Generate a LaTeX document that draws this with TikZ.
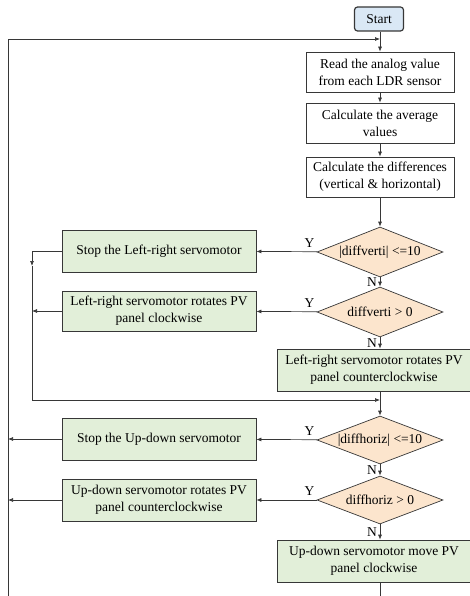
\documentclass[tikz,border=0pt]{standalone}
\usepackage{fontspec}
\setmainfont{Liberation Serif}
\usetikzlibrary{shapes.geometric,arrows.meta,calc}
\definecolor{boxgreen}{RGB}{226,239,217}
\definecolor{decpeach}{RGB}{252,229,205}
\definecolor{startblue}{RGB}{218,232,245}
\definecolor{linegray}{RGB}{55,55,55}
\begin{document}
\begin{tikzpicture}[x=1pt,y=-1pt,
  font=\fontsize{13.5}{17}\selectfont,
  startbox/.style={draw=linegray,line width=1.2pt,rounded corners=3pt,fill=startblue,minimum width=49pt,minimum height=24pt,inner sep=1pt},
  box/.style={draw=linegray,line width=0.7pt,fill=white,align=center,minimum width=148pt,minimum height=40pt,inner sep=1pt},
  act/.style={draw=linegray,line width=0.7pt,fill=boxgreen,align=center,minimum width=194pt,minimum height=42pt,inner sep=1pt},
  dec/.style={draw=linegray,line width=0.7pt,fill=decpeach,shape=diamond,aspect=2.5,minimum width=126pt,minimum height=50pt,inner sep=0.5pt},
  line/.style={draw=linegray,line width=0.7pt},
  arr/.style={line,-{Latex[length=5pt,width=4pt]}},
  yn/.style={inner sep=1pt}]
\useasboundingbox (0,0) rectangle (470,596);
\node[startbox] (start) at (379,19) {Start};
\node[box] (read) at (380,72) {Read the analog value\\from each LDR sensor};
\node[box] (avg) at (380,123) {Calculate the average\\values};
\node[box] (diff) at (380,177) {Calculate the differences\\(vertical \& horizontal)};
\node[dec] (dv) at (380,252) {|diffverti| <=10};
\node[dec] (dvp) at (380,312) {diffverti > 0};
\node[act] (lrccw) at (374,370) {Left-right servomotor rotates PV\\panel counterclockwise};
\node[act] (lrstop) at (159,251) {Stop the Left-right servomotor};
\node[act, minimum height=40pt] (lrcw) at (159,311) {Left-right servomotor rotates PV\\panel clockwise};
\node[dec, minimum height=48pt] (dh) at (380,440) {|diffhoriz| <=10};
\node[dec, minimum height=48pt] (dhp) at (380,500) {diffhoriz > 0};
\node[act] (udstop) at (159,439) {Stop the Up-down servomotor};
\node[act] (udccw) at (159,500) {Up-down servomotor rotates PV\\panel counterclockwise};
\node[act] (udcw) at (374,561) {Up-down servomotor move PV\\panel clockwise};
\coordinate (loopin) at (380,39);
\coordinate (outertop) at (8,39);
\coordinate (outerbot) at (8,596);
\coordinate (innerarr) at (32,266);
\coordinate (merge) at (380,400);
\coordinate (bot) at (380,596);
\draw[line] (start.south -| loopin) -- (loopin);
\draw[arr] (loopin) -- (read);
\draw[arr] (outerbot) -- (outertop) -- (loopin);
\draw[arr] (read) -- (avg);
\draw[arr] (avg) -- (diff);
\draw[arr] (diff) -- (dv);
\draw[arr] (dv) -- (lrstop);
\draw[arr] (dv) -- (dvp);
\draw[arr] (dvp) -- (lrcw);
\draw[arr] (dvp.south) -- (dvp.south |- lrccw.north);
\draw[arr] (lrstop.west) -| (innerarr);
\draw[arr] (innerarr) |- (merge);
\draw[arr] (lrcw.west) -- (lrcw.west -| innerarr);
\draw[arr] (lrccw.south -| dh) -- (dh);
\draw[arr] (dh) -- (udstop);
\draw[arr] (dh) -- (dhp);
\draw[arr] (dhp) -- (udccw);
\draw[arr] (dhp.south) -- (dhp.south |- udcw.north);
\draw[arr] (udstop.west) -- (udstop.west -| outerbot);
\draw[arr] (udccw.west) -- (udccw.west -| outerbot);
\draw[line] (udcw.south -| bot) -- (bot);
\node[yn,anchor=south east] (y1) at ([xshift=-1pt,yshift=3pt]dv.west) {Y};
\node[yn,anchor=south east] (y2) at ([xshift=-1pt,yshift=3pt]dvp.west) {Y};
\node[yn,anchor=south east] (y3) at ([xshift=-1pt,yshift=3pt]dh.west) {Y};
\node[yn,anchor=south east] (y4) at ([xshift=-1pt,yshift=3pt]dhp.west) {Y};
\node[yn,anchor=east] (n1) at ([xshift=-2pt]$(dv.south)!0.5!(dvp.north)$) {N};
\node[yn,anchor=east] (n2) at ([xshift=-2pt]$(dvp.south)!0.5!(dvp.south |- lrccw.north)$) {N};
\node[yn,anchor=east] (n3) at ([xshift=-2pt]$(dh.south)!0.5!(dhp.north)$) {N};
\node[yn,anchor=east] (n4) at ([xshift=-2pt]$(dhp.south)!0.5!(dhp.south |- udcw.north)$) {N};
\end{tikzpicture}
\end{document}
